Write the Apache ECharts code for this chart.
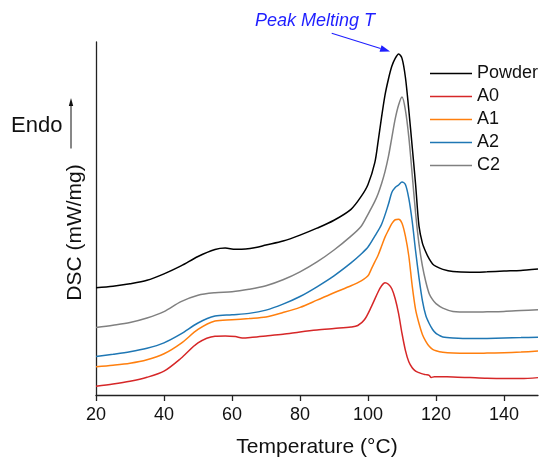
<!DOCTYPE html>
<html>
<head>
<meta charset="utf-8">
<script src="https://cdn.jsdelivr.net/npm/echarts@6.0.0/dist/echarts.min.js"></script>
<style>
html,body{margin:0;padding:0;background:#fff;}
#chart{width:540px;height:463px;}
</style>
</head>
<body>
<div id="chart"></div>
<script>
// ---- data (DSC signal, vertically offset, arbitrary units) ----
var xTickLabels = [20, 40, 60, 80, 100, 120, 140];
var seriesNames = ['Powder', 'A0', 'A1', 'A2', 'C2'];

var powderT = [20,25,30,35,40,45,50,55,58,61,64,67,70,75,80,85,90,95,98,100,102,103,104,105,106,107,108,109,110,111,112,113,114,115,116,117,118,119,120,122,125,130,135,140,145,150];
var powderV = [108,109.5,112,115.5,122,130,139.5,146.5,148,146.8,147,148.5,151,155,161,168,176,187,200,212,234,256,280,302,318,331,339,343.5,339,320,287,250,212,170,153,144,137,132,129.5,126.5,124.3,123.5,124,124.8,125.5,126.8];

var a0T = [20,25,30,35,40,45,50,55,58,61,63,66,70,75,80,85,90,95,97,99,101,103,104,105,106,107,108,109,110,111,112,113,114,115,116,117,118,118.6,119.5,122,125,130,135,140,145,150];
var a0V = [8.8,11,13.8,17.8,24,37,52.5,59.2,59.5,58.8,57.5,58.2,59.5,61.2,63.5,65.5,67,68.5,70,76,89,104,110,113,111.5,107,97,82,62,45,33.5,27.5,24,22.5,21.3,20.5,19.7,17.6,18.5,18.3,18.2,17.5,16.8,16.5,16.5,17.5];

var a1T = [20,25,30,35,40,45,50,55,60,65,70,75,80,85,90,95,98,100,101,102,103,104,105,106,107,108,109,110,111,112,113,114,115,116,117,118,119,120,122,125,130,135,140,145,150];
var a1V = [28.5,30,32,35.5,41.5,52,66,74.5,75.8,77,78.5,83,88.2,95.5,103,110,115,120,127,134,141,150,159,166,172.5,176.5,177,173,160,140,110,86,72,61,54,49,46,44.5,43,42.2,42,42.2,42.5,43.2,44.2];

var a2T = [20,25,30,35,40,45,50,55,60,65,70,75,80,85,90,95,98,100,102,104,106,107,108,109,110,111,112,113,114,115,116,117,118,119,120,121,122,125,130,135,140,145,150];
var a2V = [38.8,41,43.5,47,52.5,61.5,72.5,79.5,80.8,82.2,85.5,91.5,99.2,109,120,133,142,149,160,172,192,204,209,211.5,214.5,212,198,175,145,118,95,80,72,66,62,60,58.5,57.5,56.8,57,57.5,57.8,58.2];

var c2T = [20,25,30,35,40,45,50,55,60,65,70,75,80,85,90,95,98,100,102,103,104,105,106,107,108,109,110,111,112,113,114,115,116,117,118,119,120,122,125,130,135,140,145,150];
var c2V = [68,70.3,73,77.5,84,94,100.5,103,104,106.5,110,116,124,134,146,160,170,182,195,203,213,225,240,259,278,292,300,287,260,222,183,152,130,114,102,96,92,87.5,84.2,83.5,83.8,84.2,85,85.8];

var seriesColors = ['#000000', '#d62728', '#ff7f0e', '#1f77b4', '#808080'];

function zip(t, v) { return t.map(function (x, i) { return [x, v[i]]; }); }
var allData = [zip(powderT, powderV), zip(a0T, a0V), zip(a1T, a1V), zip(a2T, a2V), zip(c2T, c2V)];

var FONT = '"Liberation Sans", Arial, sans-serif';
var chart = echarts.init(document.getElementById('chart'), null, {renderer: 'canvas'});

var series = seriesNames.map(function (n, i) {
  return {
    name: n, type: 'line', data: allData[i], smooth: 0.3,
    symbol: 'none', showSymbol: false, animation: false,
    lineStyle: {color: seriesColors[i], width: 1.5},
    itemStyle: {color: seriesColors[i]},
    z: 10 - i
  };
});

chart.setOption({
  animation: false,
  backgroundColor: '#ffffff',
  grid: {left: 96, right: 2, top: 42, bottom: 65.5},
  xAxis: {
    type: 'value', min: 20, max: 150, interval: 20,
    name: 'Temperature (°C)', nameLocation: 'middle', nameGap: 42,
    nameTextStyle: {fontFamily: FONT, fontSize: 21, color: '#111'},
    axisLine: {show: true, lineStyle: {color: '#222', width: 1.3}},
    axisTick: {show: true, inside: false, length: 6, lineStyle: {color: '#222', width: 1.3}, customValues: xTickLabels},
    axisLabel: {fontFamily: FONT, fontSize: 18, color: '#111', margin: 11, customValues: xTickLabels},
    splitLine: {show: false}
  },
  yAxis: {
    type: 'value', min: 0, max: 355.5,
    axisLine: {show: true, onZero: false, lineStyle: {color: '#222', width: 1.3}},
    axisTick: {show: false}, axisLabel: {show: false}, splitLine: {show: false}
  },
  legend: {
    orient: 'vertical', left: 430, top: 64.5, padding: 0,
    icon: 'rect', itemWidth: 42, itemHeight: 1.6, itemGap: 5,
    data: seriesNames,
    textStyle: {fontFamily: FONT, fontSize: 18, color: '#111', lineHeight: 18}
  },
  series: series
});

// annotations anchored to the Powder melting peak
var pk = 0;
for (var i = 1; i < powderV.length; i++) if (powderV[i] > powderV[pk]) pk = i;
var p = chart.convertToPixel({gridIndex: 0}, [powderT[pk], powderV[pk]]);
var tip = [p[0] - 8.5, p[1] - 2.5];
var start = [331.7, 33.3];
var dx = tip[0] - start[0], dy = tip[1] - start[1];
var L = Math.sqrt(dx * dx + dy * dy), ux = dx / L, uy = dy / L;
var hl = 10, hw = 3.4;
var bx = tip[0] - hl * ux, by = tip[1] - hl * uy;

chart.setOption({
  graphic: [
    {type: 'text', x: 75, y: 232.5, rotation: Math.PI / 2,
     style: {text: 'DSC (mW/mg)', font: '21px ' + FONT, fill: '#111', align: 'center', verticalAlign: 'middle'}},
    {type: 'text', x: 36.7, y: 125.5,
     style: {text: 'Endo', font: '22px ' + FONT, fill: '#111', align: 'center', verticalAlign: 'middle'}},
    {type: 'line', shape: {x1: 71, y1: 148.5, x2: 71, y2: 104}, style: {stroke: '#111', lineWidth: 1}},
    {type: 'polygon', shape: {points: [[71, 98], [68.8, 106], [73.2, 106]]}, style: {fill: '#111'}},
    {type: 'text', x: 315, y: 20.5,
     style: {text: 'Peak Melting T', font: 'italic 18px ' + FONT, fill: '#1f1fff', align: 'center', verticalAlign: 'middle'}},
    {type: 'line', shape: {x1: start[0], y1: start[1], x2: bx, y2: by}, style: {stroke: '#1f1fff', lineWidth: 1.1}},
    {type: 'polygon', shape: {points: [[tip[0], tip[1]], [bx - hw * uy, by + hw * ux], [bx + hw * uy, by - hw * ux]]}, style: {fill: '#1f1fff'}}
  ]
});
</script>
</body>
</html>
